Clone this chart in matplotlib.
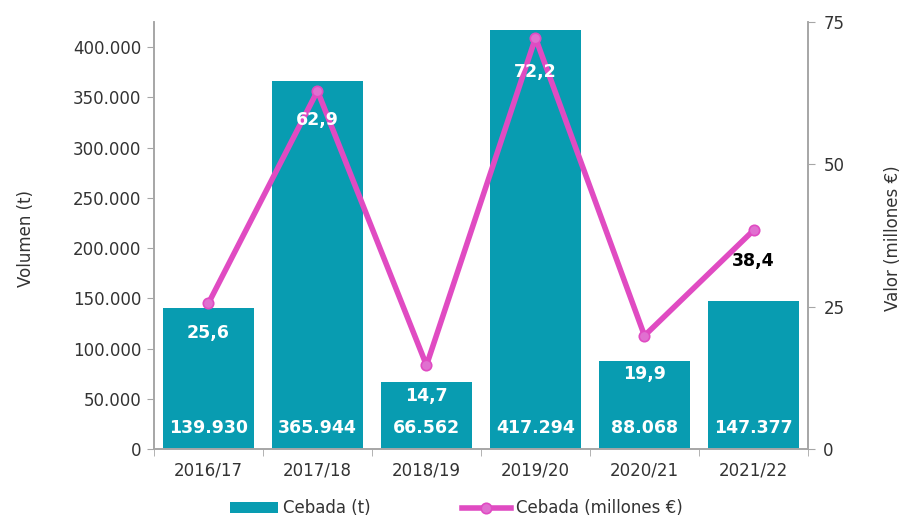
import matplotlib
matplotlib.use("Agg")
import matplotlib.pyplot as plt
from matplotlib.ticker import FuncFormatter

campanas = ["2016/17", "2017/18", "2018/19", "2019/20", "2020/21", "2021/22"]
volumen = [139930, 365944, 66562, 417294, 88068, 147377]
valor = [25.6, 62.9, 14.7, 72.2, 19.9, 38.4]

teal = "#089cb1"
magenta = "#e04bc2"
gris = "#a6a6a6"

plt.rcParams["font.family"] = ["DejaVu Sans"]

fig = plt.figure(figsize=(9.03, 5.21), dpi=100)
ax = fig.add_axes([0.1705, 0.1382, 0.7243, 0.8196])
x = list(range(len(campanas)))

ax.bar(x, volumen, width=0.83, color=teal, label="Cebada (t)", zorder=2)
ax.set_xlim(-0.5, len(campanas) - 0.5)
ax.set_ylim(0, 425000)
ax.set_yticks(range(0, 400001, 50000))
ax.yaxis.set_major_formatter(FuncFormatter(lambda v, p: f"{int(v):,}".replace(",", ".")))
ax.set_xticks(x)
ax.set_xticklabels(campanas)
ax.set_xticks([i - 0.5 for i in range(len(campanas) + 1)], minor=True)
ax.tick_params(axis="x", which="major", length=0, pad=9, labelsize=12, colors="#333333")
ax.tick_params(axis="x", which="minor", length=5, color=gris)
ax.tick_params(axis="y", length=5, color=gris, labelsize=12, labelcolor="#333333", pad=4)

for i, v in enumerate(volumen):
    ax.text(i, 21000, f"{v:,}".replace(",", "."), ha="center", va="center",
            color="white", fontsize=12.5, fontweight="bold", zorder=3)

ax2 = ax.twinx()
ax2.plot(x, valor, color=magenta, lw=4, marker="o", ms=7.5, mfc="#e070d0",
         mec=magenta, mew=1.2, label="Cebada (millones €)", zorder=4)
ax2.set_ylim(0, 75)
ax2.set_yticks([0, 25, 50, 75])
ax2.tick_params(axis="y", length=5, color=gris, labelsize=12, labelcolor="#333333", pad=6)

# titulos de los ejes
fig.text(0.029, 0.542, "Volumen (t)", rotation=90, ha="center", va="center",
         fontsize=12, color="#333333")
fig.text(0.989, 0.542, "Valor (millones €)", rotation=90, ha="center", va="center",
         fontsize=12, color="#333333")

# desplazamiento vertical de cada etiqueta del valor (px)
desplaz = [-30, -29, -31, -34, -38, -31]
for i, v in enumerate(valor):
    col = "black" if i == len(valor) - 1 else "white"
    ax2.annotate(f"{v:.1f}".replace(".", ","), (i, v), xytext=(0, desplaz[i]),
                 textcoords="offset pixels",
                 ha="center", va="center", color=col, fontsize=12.5, fontweight="bold", zorder=5)

for a in (ax, ax2):
    a.spines["top"].set_visible(False)
    for s in ("left", "right", "bottom"):
        a.spines[s].set_color(gris)
        a.spines[s].set_linewidth(1.2)

h1, l1 = ax.get_legend_handles_labels()
h2, l2 = ax2.get_legend_handles_labels()
fig.legend(h1 + h2, l1 + l2, loc="lower center", bbox_to_anchor=(0.505, -0.022), ncol=2,
           frameon=False, fontsize=12, handlelength=2.9, columnspacing=5.5, handletextpad=0.3,
           labelcolor="#333333")

fig.savefig("out.png", dpi=100)
